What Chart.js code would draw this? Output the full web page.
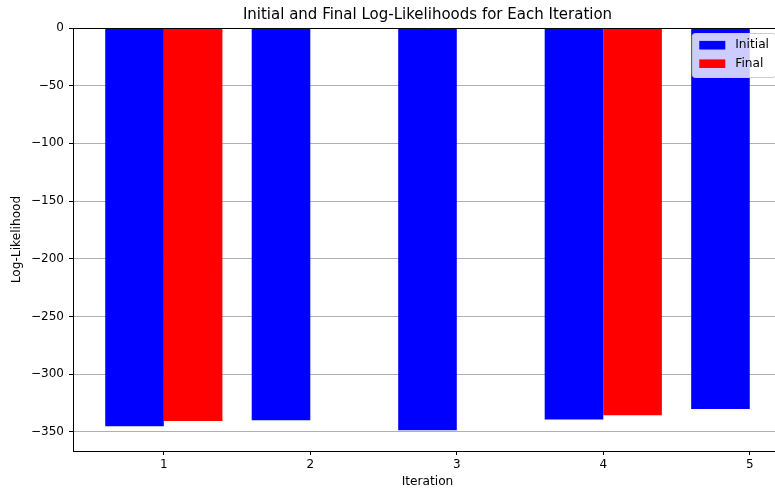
<!DOCTYPE html>
<html>
<head>
<meta charset="utf-8">
<script src="https://cdn.jsdelivr.net/npm/chart.js@4.4.1/dist/chart.umd.min.js"></script>
<style>
  html, body { margin: 0; padding: 0; overflow: hidden; background: #fff; width: 775px; height: 491px; }
  canvas { display: block; }
</style>
</head>
<body>
<canvas id="c" width="855" height="491"></canvas>
<script>
// ---- data ----
const iterations = [1, 2, 3, 4, 5];
const initialLL = [-345.3, -340.1, -348.8, -339.3, -330.3];
const finalLL = [-340.7, null, null, -335.8, null];
const seriesLabels = ['Initial', 'Final'];
const xTickValues = [1, 2, 3, 4, 5];
const yTickValues = [0, -50, -100, -150, -200, -250, -300, -350];
const yMin = -366.7, yMax = 0;
const xMin = 0.38, xMax = 5.22;

const FONT = '"DejaVu Sans"';
Chart.defaults.color = '#000';
Chart.defaults.font.family = FONT;

const spinesPlugin = {
  id: 'spines',
  afterDatasetsDraw(chart) {
    const { ctx, chartArea: a } = chart;
    ctx.save();
    ctx.strokeStyle = '#000';
    ctx.lineWidth = 1;
    ctx.beginPath();
    ctx.moveTo(a.left, Math.round(a.top) + 0.5);
    ctx.lineTo(a.right, Math.round(a.top) + 0.5);
    ctx.moveTo(Math.round(a.right) + 0.5, a.top);
    ctx.lineTo(Math.round(a.right) + 0.5, a.bottom);
    ctx.stroke();
    ctx.restore();
  }
};

const legendPlugin = {
  id: 'mplLegend',
  afterDraw(chart) {
    const { ctx, chartArea: a } = chart;
    const fontSize = 12.2;
    ctx.save();
    ctx.font = fontSize + 'px ' + FONT;
    const items = chart.data.datasets.map(d => ({ label: d.label, color: d.backgroundColor }));
    const textW = Math.max(...items.map(i => ctx.measureText(i.label).width));
    const pad = 7, sw = 26, gap = 10, rowH = 18.5;
    const w = pad + sw + gap + textW + pad;
    const h = 44;
    const x = a.right - 6 - w;
    const y = a.top + 5.5;
    const r = 3;
    ctx.beginPath();
    ctx.moveTo(x + r, y);
    ctx.lineTo(x + w - r, y);
    ctx.quadraticCurveTo(x + w, y, x + w, y + r);
    ctx.lineTo(x + w, y + h - r);
    ctx.quadraticCurveTo(x + w, y + h, x + w - r, y + h);
    ctx.lineTo(x + r, y + h);
    ctx.quadraticCurveTo(x, y + h, x, y + h - r);
    ctx.lineTo(x, y + r);
    ctx.quadraticCurveTo(x, y, x + r, y);
    ctx.closePath();
    ctx.fillStyle = 'rgba(255,255,255,0.8)';
    ctx.fill();
    ctx.strokeStyle = '#cccccc';
    ctx.lineWidth = 1;
    ctx.stroke();
    items.forEach((it, i) => {
      const cy = y + 11.7 + i * rowH;
      ctx.fillStyle = it.color;
      ctx.fillRect(x + pad, cy - 4.3, sw, 8.6);
      ctx.fillStyle = '#000';
      ctx.textBaseline = 'middle';
      ctx.textAlign = 'left';
      ctx.fillText(it.label, x + pad + sw + gap, cy);
    });
    ctx.restore();
  }
};

const toPoints = (vals) => iterations.map((it, i) => ({ x: it, y: vals[i] }));

new Chart(document.getElementById('c'), {
  type: 'bar',
  data: {
    datasets: [
      { label: seriesLabels[0], data: toPoints(initialLL), backgroundColor: '#0000ff', borderWidth: 0,
        categoryPercentage: 0.8, barPercentage: 1.0 },
      { label: seriesLabels[1], data: toPoints(finalLL), backgroundColor: '#ff0000', borderWidth: 0,
        categoryPercentage: 0.8, barPercentage: 1.0 }
    ]
  },
  options: {
    responsive: false,
    animation: false,
    devicePixelRatio: 1,
    layout: { padding: { left: 0, right: 73, top: 0, bottom: 0 } },
    plugins: {
      legend: { display: false },
      tooltip: { enabled: false },
      title: {
        display: true,
        fullSize: false,
        text: 'Initial and Final Log-Likelihoods for Each Iteration',
        font: { size: 15, weight: 'normal', family: FONT },
        color: '#000',
        padding: { top: 6, bottom: 4 }
      }
    },
    scales: {
      x: {
        type: 'linear',
        offset: false,
        min: xMin,
        max: xMax,
        afterBuildTicks: (s) => { s.ticks = xTickValues.map(v => ({ value: v })); },
        afterFit: (s) => { s.height = 40; },
        ticks: {
          callback: (v) => String(v),
          font: { size: 12, family: FONT },
          color: '#000',
          padding: 3,
          maxRotation: 0,
          autoSkip: false
        },
        grid: { display: true, drawOnChartArea: false, drawTicks: true, tickLength: 4, tickColor: '#000', offset: false },
        border: { display: true, color: '#000', width: 1 },
        title: {
          display: true, text: 'Iteration', color: '#000',
          font: { size: 12.2, family: FONT },
          padding: { top: 0, bottom: 2 }
        }
      },
      y: {
        type: 'linear',
        min: yMin,
        max: yMax,
        afterBuildTicks: (s) => { s.ticks = yTickValues.map(v => ({ value: v })); },
        afterFit: (s) => { s.width = 73; },
        ticks: {
          callback: (v) => String(v).replace('-', '\u2212'),
          font: { size: 12, family: FONT },
          color: '#000',
          padding: 5
        },
        grid: { color: '#b0b0b0', lineWidth: 1, tickLength: 4, tickColor: '#000' },
        border: { display: true, color: '#000', width: 1 },
        title: {
          display: true, text: 'Log-Likelihood', color: '#000',
          font: { size: 12.2, family: FONT },
          padding: { top: 10, bottom: 0 }
        }
      }
    }
  },
  plugins: [spinesPlugin, legendPlugin]
});
</script>
</body>
</html>
